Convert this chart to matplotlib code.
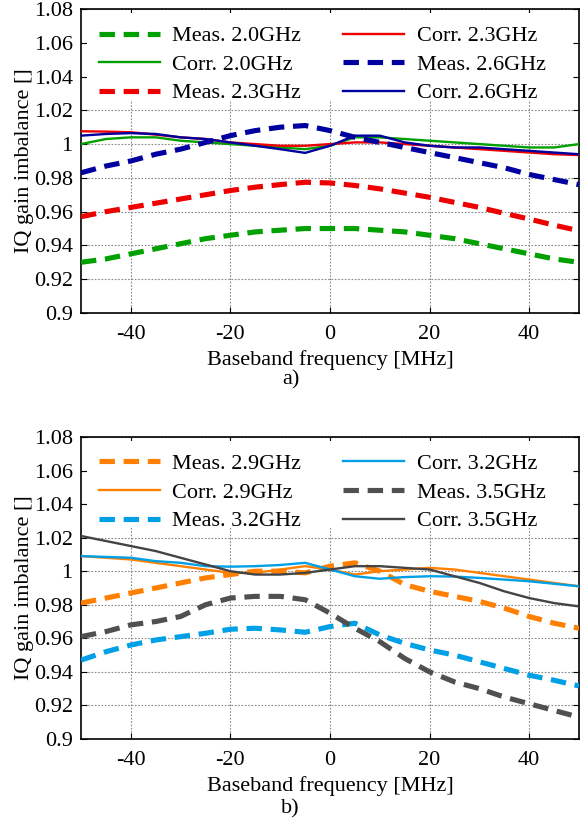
import matplotlib
matplotlib.use("Agg")
import matplotlib.pyplot as plt
from matplotlib.patches import Rectangle

plt.rcParams['font.family'] = ['Liberation Serif', 'DejaVu Serif']
plt.rcParams['axes.unicode_minus'] = False

freq = [-50, -45, -40, -35, -30, -25, -20, -15, -10, -5, 0, 5, 10, 15, 20, 25, 30, 35, 40, 45, 50]

# Panel a)
meas_20 = [0.930, 0.932, 0.935, 0.938, 0.941, 0.944, 0.946, 0.948, 0.949, 0.950, 0.950, 0.950, 0.949, 0.948, 0.946, 0.944, 0.941, 0.938, 0.935, 0.932, 0.930]
corr_20 = [1.000, 1.003, 1.004, 1.004, 1.002, 1.001, 1.000, 0.999, 0.998, 0.997, 0.999, 1.004, 1.004, 1.003, 1.002, 1.001, 1.000, 0.999, 0.998, 0.998, 1.000]
meas_23 = [0.957, 0.960, 0.9625, 0.965, 0.9675, 0.970, 0.9725, 0.9745, 0.976, 0.9774, 0.977, 0.9755, 0.9735, 0.971, 0.9685, 0.9655, 0.9625, 0.959, 0.9556, 0.952, 0.9487]
corr_23 = [1.0076, 1.0074, 1.007, 1.0056, 1.004, 1.003, 1.001, 1.000, 0.999, 0.999, 1.000, 1.001, 1.001, 1.000, 0.999, 0.998, 0.997, 0.996, 0.995, 0.994, 0.9935]
meas_26 = [0.983, 0.987, 0.990, 0.994, 0.997, 1.001, 1.005, 1.008, 1.010, 1.011, 1.008, 1.004, 1.001, 0.998, 0.995, 0.992, 0.989, 0.986, 0.982, 0.979, 0.976]
corr_26 = [1.005, 1.006, 1.0065, 1.006, 1.004, 1.003, 1.001, 0.999, 0.997, 0.9948, 0.999, 1.005, 1.005, 1.001, 0.999, 0.998, 0.998, 0.997, 0.996, 0.995, 0.994]

# Panel b)
meas_29 = [0.981, 0.984, 0.987, 0.990, 0.993, 0.996, 0.998, 1.000, 1.000, 0.999, 1.003, 1.005, 1.000, 0.992, 0.988, 0.985, 0.982, 0.978, 0.973, 0.969, 0.966]
corr_29 = [1.009, 1.008, 1.007, 1.005, 1.003, 1.001, 0.999, 0.999, 1.001, 1.003, 1.001, 0.998, 1.000, 1.001, 1.002, 1.001, 0.999, 0.997, 0.995, 0.993, 0.991]
meas_32 = [0.947, 0.952, 0.956, 0.959, 0.961, 0.963, 0.9654, 0.966, 0.965, 0.9636, 0.967, 0.969, 0.962, 0.957, 0.953, 0.950, 0.946, 0.942, 0.938, 0.935, 0.9316]
corr_32 = [1.009, 1.0085, 1.008, 1.006, 1.005, 1.003, 1.0027, 1.003, 1.0037, 1.005, 1.001, 0.997, 0.9955, 0.9965, 0.997, 0.9968, 0.996, 0.995, 0.994, 0.9925, 0.991]
meas_35 = [0.961, 0.964, 0.968, 0.970, 0.973, 0.980, 0.984, 0.985, 0.985, 0.983, 0.975, 0.966, 0.958, 0.948, 0.940, 0.934, 0.930, 0.925, 0.921, 0.917, 0.913]
corr_35 = [1.021, 1.018, 1.015, 1.012, 1.008, 1.004, 1.000, 0.998, 0.998, 0.999, 1.001, 1.003, 1.003, 1.002, 1.001, 0.997, 0.993, 0.988, 0.984, 0.981, 0.979]

xticks = [-40, -20, 0, 20, 40]
yticks = [0.9, 0.92, 0.94, 0.96, 0.98, 1.0, 1.02, 1.04, 1.06, 1.08]
yticklabels = ['0.9', '0.92', '0.94', '0.96', '0.98', '1', '1.02', '1.04', '1.06', '1.08']

GREEN = '#00a000'
RED = '#ee0000'
NAVY = '#0000a0'
ORANGE = '#ff8000'
LBLUE = '#00a0e6'
DGRAY = '#444444'
MGRAY = '#505050'

FS = 16
fig = plt.figure(figsize=(5.81, 8.18), dpi=100)
ax1 = fig.add_axes([0.1394, 0.6174, 0.8572, 0.3716])
ax2 = fig.add_axes([0.1394, 0.0966, 0.8572, 0.3692])

DASH = (3, 1.7)
LW_D = 3.7
LW_S = 1.7

def style(ax):
    ax.set_xlim(-50, 50)
    ax.set_ylim(0.9, 1.08)
    ax.set_xticks(xticks)
    ax.set_yticks(yticks)
    ax.set_yticklabels(yticklabels)
    ax.tick_params(direction='in', top=True, right=True, length=4, labelsize=FS, pad=6)
    ax.tick_params(axis='x', pad=9)
    ax.grid(True, color='#888888', linestyle=(0, (1.5, 1.5)), linewidth=0.8)
    ax.set_axisbelow(True)
    for s in ax.spines.values():
        s.set_linewidth(1.2)
    ax.set_xlabel('Baseband frequency [MHz]', fontsize=FS, labelpad=4)
    ax.set_ylabel('IQ gain imbalance []', fontsize=FS, labelpad=0)
    # white background behind the legend area (hides grid there)
    ax.add_patch(Rectangle((0.012, 0.70), 0.976, 0.288, transform=ax.transAxes,
                           facecolor='white', edgecolor='none', zorder=1))

def series(ax, specs):
    handles = []
    for y, c, ls, lab in specs:
        if ls == 'd':
            h, = ax.plot(freq, y, color=c, lw=LW_D, dashes=DASH, label=lab, zorder=3)
        else:
            h, = ax.plot(freq, y, color=c, lw=LW_S, label=lab, zorder=3)
        handles.append(h)
    ax.legend(handles=handles, ncol=2, loc='upper left',
              bbox_to_anchor=(0.031, 0.952),
              fontsize=FS, frameon=False, handlelength=2.75, handletextpad=0.55,
              labelspacing=0.36, columnspacing=1.9, borderaxespad=0,
              borderpad=0.1)

style(ax1)
series(ax1, [
    (meas_20, GREEN, 'd', 'Meas. 2.0GHz'),
    (corr_20, GREEN, 's', 'Corr. 2.0GHz'),
    (meas_23, RED, 'd', 'Meas. 2.3GHz'),
    (corr_23, RED, 's', 'Corr. 2.3GHz'),
    (meas_26, NAVY, 'd', 'Meas. 2.6GHz'),
    (corr_26, NAVY, 's', 'Corr. 2.6GHz'),
])
style(ax2)
series(ax2, [
    (meas_29, ORANGE, 'd', 'Meas. 2.9GHz'),
    (corr_29, ORANGE, 's', 'Corr. 2.9GHz'),
    (meas_32, LBLUE, 'd', 'Meas. 3.2GHz'),
    (corr_32, LBLUE, 's', 'Corr. 3.2GHz'),
    (meas_35, MGRAY, 'd', 'Meas. 3.5GHz'),
    (corr_35, DGRAY, 's', 'Corr. 3.5GHz'),
])

fig.text(0.5, 1 - 380 / 818, 'a)', ha='center', va='center', fontsize=FS)
fig.text(0.5, 1 - 809 / 818, 'b)', ha='center', va='center', fontsize=FS)

fig.savefig('out.png', dpi=100)
